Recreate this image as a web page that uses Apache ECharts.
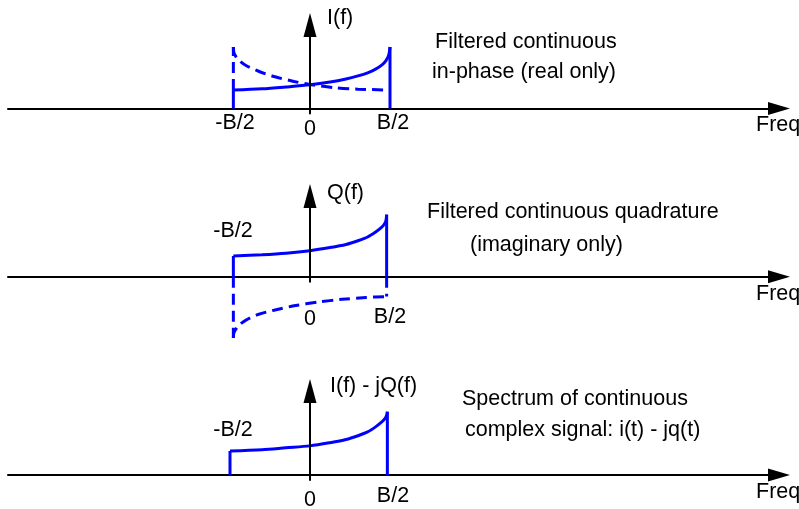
<!DOCTYPE html>
<html><head><meta charset="utf-8">
<script src="https://cdn.jsdelivr.net/npm/echarts@6/dist/echarts.min.js"></script>
<style>html,body{margin:0;padding:0;background:#fff}#c{width:799px;height:509px}</style>
</head><body><div id="c"></div>
<script>
// ---- data (frequency in units of B/2, amplitude normalised to the peak) ----
const xRange = [-3.775, 5.8625];
const tickLabels = ['-B/2', '0', 'B/2'];
const axisName = 'Freq';

// Panel 1: I(f)
const p1CurveX = [-0.958, -0.6, -0.3, 0, 0.25, 0.45, 0.6, 0.72, 0.82, 0.9, 0.95, 0.985, 1.0];
const p1Solid  = [0.30, 0.32, 0.35, 0.385, 0.43, 0.48, 0.53, 0.58, 0.64, 0.71, 0.78, 0.87, 1.0];
const p1DashX  = [-0.958, -0.95, -0.9, -0.8, -0.65, -0.45, -0.2, 0, 0.3, 0.6, 1.0];
const p1Dashed = [1.0, 0.90, 0.80, 0.70, 0.61, 0.52, 0.44, 0.39, 0.34, 0.315, 0.30];

// Panel 2: Q(f)
const p2CurveX = [-0.958, -0.6, -0.3, 0, 0.25, 0.45, 0.6, 0.72, 0.82, 0.89, 0.93, 0.95, 0.958];
const p2Solid  = [0.334, 0.355, 0.38, 0.42, 0.47, 0.52, 0.58, 0.64, 0.72, 0.79, 0.85, 0.91, 1.0];
const p2DashX  = [-0.958, -0.95, -0.9, -0.8, -0.65, -0.45, -0.2, 0.1, 0.4, 0.7, 0.958];
const p2Dashed = [-0.99, -0.9, -0.8, -0.7, -0.61, -0.54, -0.47, -0.41, -0.365, -0.335, -0.32];

// Panel 3: I(f) - jQ(f)
const p3CurveX = [-1.0, -0.6, -0.3, 0, 0.25, 0.45, 0.6, 0.72, 0.82, 0.89, 0.93, 0.955, 0.967];
const p3Solid  = [0.38, 0.40, 0.43, 0.46, 0.51, 0.56, 0.62, 0.68, 0.76, 0.83, 0.88, 0.93, 1.0];

const yLabels = ['I(f)', 'Q(f)', 'I(f) - jQ(f)'];
const captions = [
  ['Filtered continuous', 'in-phase (real only)'],
  ['Filtered continuous quadrature', '(imaginary only)'],
  ['Spectrum of continuous', 'complex signal: i(t) - jq(t)']
];

// ---- layout ----
const BLUE = '#0000ff';
const FONT = '"Liberation Sans", Arial, Helvetica, sans-serif';
const grids = [
  {left: 8, right: 20, top: 25, height: 88.5},
  {left: 8, right: 20, top: 196, height: 85.7},
  {left: 8, right: 20, top: 391, height: 89}
];
const yRanges = [[-0.0813, 1.3577], [-0.0806, 1.3016], [-0.079, 1.327]];

const zip = (xs, ys) => xs.map((x, i) => [x, ys[i]]);
const last = a => a[a.length - 1];

function lineSeries(idx, data, dashed, extra) {
  return Object.assign({
    type: 'line', xAxisIndex: idx, yAxisIndex: idx, data: data,
    symbol: 'none', showSymbol: false, silent: true, animation: false,
    clip: false,
    lineStyle: {color: BLUE, width: 3, type: dashed ? [11, 6] : 'solid', cap: 'butt'},
    z: 3
  }, extra || {});
}
function curve(idx, data, dashed) {
  return lineSeries(idx, data, dashed, {smooth: 0.3});
}

const series = [];
// panel 1
series.push(curve(0, zip(p1CurveX, p1Solid), false));
series.push(lineSeries(0, [[p1CurveX[0], 0], [p1CurveX[0], p1Solid[0]]], false));
series.push(lineSeries(0, [[last(p1CurveX), 0], [last(p1CurveX), last(p1Solid)]], false));
series.push(curve(0, zip(p1DashX, p1Dashed), true));
series.push(lineSeries(0, [[p1DashX[0], p1Solid[0]], [p1DashX[0], p1Dashed[0]]], true));
// panel 2
series.push(curve(1, zip(p2CurveX, p2Solid), false));
series.push(lineSeries(1, [[p2CurveX[0], 0], [p2CurveX[0], p2Solid[0]]], false));
series.push(lineSeries(1, [[last(p2CurveX), 0], [last(p2CurveX), last(p2Solid)]], false));
series.push(curve(1, zip(p2DashX, p2Dashed), true));
series.push(lineSeries(1, [[p2DashX[0], 0], [p2DashX[0], p2Dashed[0]]], true));
series.push(lineSeries(1, [[last(p2DashX), 0], [last(p2DashX), last(p2Dashed)]], true));
// panel 3
series.push(curve(2, zip(p3CurveX, p3Solid), false));
series.push(lineSeries(2, [[p3CurveX[0], 0], [p3CurveX[0], p3Solid[0]]], false));
series.push(lineSeries(2, [[last(p3CurveX), 0], [last(p3CurveX), last(p3Solid)]], false));

const hidden = {axisTick: {show: false}, axisLabel: {show: false}, splitLine: {show: false}};
const xAxes = grids.map((g, i) => Object.assign({
  type: 'value', gridIndex: i, min: xRange[0], max: xRange[1], z: 1,
  axisLine: {show: true, onZero: true, symbol: ['none', 'triangle'], symbolSize: [13, 22],
    lineStyle: {color: '#000', width: 2}}
}, hidden));
const yAxes = grids.map((g, i) => Object.assign({
  type: 'value', gridIndex: i, min: yRanges[i][0], max: yRanges[i][1], z: 5,
  axisLine: {show: true, onZero: true, symbol: ['none', 'triangle'], symbolSize: [13, 24],
    lineStyle: {color: '#000', width: 2}}
}, hidden));

function txt(s, x, y, align) {
  return {type: 'text', silent: true, z: 10, style: {
    text: s, x: x, y: y, fill: '#000', fontSize: 21.5, fontFamily: FONT,
    align: align || 'left', textAlign: align || 'left',
    verticalAlign: 'middle', textVerticalAlign: 'middle'}};
}
const graphics = [
  // panel 1
  txt(yLabels[0], 327, 18),
  txt(tickLabels[0], 235, 123, 'center'), txt(tickLabels[1], 310, 129, 'center'), txt(tickLabels[2], 393, 123, 'center'),
  txt(captions[0][0], 435, 42), txt(captions[0][1], 432, 72),
  txt(axisName, 756, 125),
  // panel 2
  txt(yLabels[1], 327, 193),
  txt(tickLabels[0], 233, 231, 'center'), txt(tickLabels[1], 310, 319, 'center'), txt(tickLabels[2], 390, 317, 'center'),
  txt(captions[1][0], 427, 212), txt(captions[1][1], 470, 245),
  txt(axisName, 756, 294),
  // panel 3
  txt(yLabels[2], 330, 386),
  txt(tickLabels[0], 233, 430, 'center'), txt(tickLabels[1], 310, 500, 'center'), txt(tickLabels[2], 393, 496, 'center'),
  txt(captions[2][0], 462, 399), txt(captions[2][1], 465, 430),
  txt(axisName, 756, 492)
];

const chart = echarts.init(document.getElementById('c'));
chart.setOption({
  animation: false,
  backgroundColor: '#fff',
  grid: grids,
  xAxis: xAxes,
  yAxis: yAxes,
  series: series,
  graphic: graphics
});
</script></body></html>
